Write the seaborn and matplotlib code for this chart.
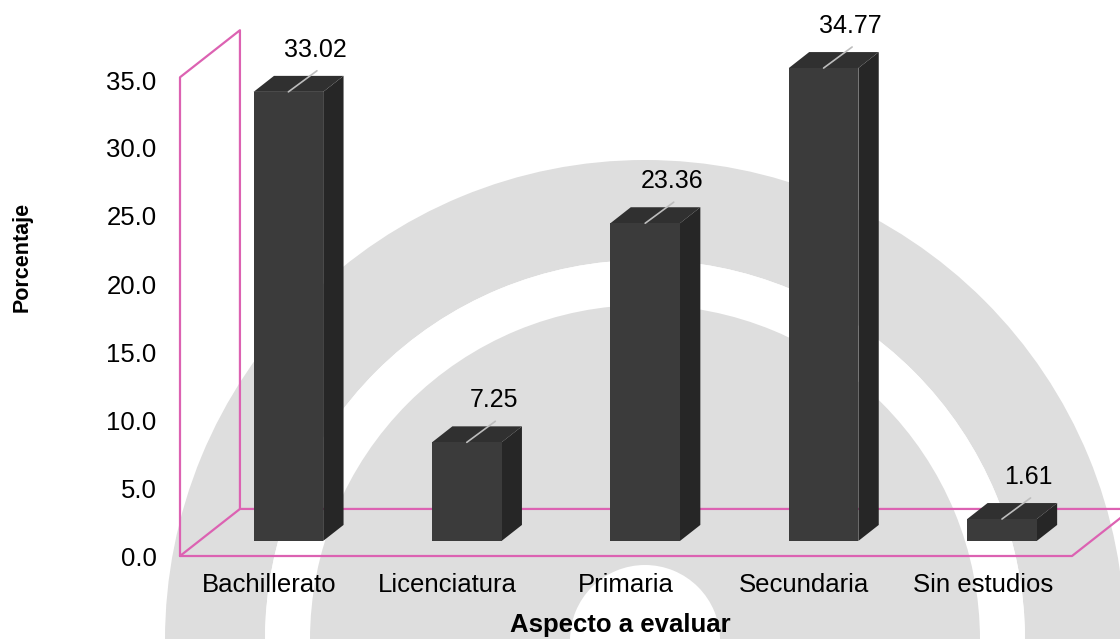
import matplotlib
matplotlib.use("Agg")
import matplotlib.pyplot as plt
import matplotlib.patches as mpatches
import matplotlib.transforms as mtransforms
import seaborn as sns
import pandas as pd

# =========================================================
# DATOS
# =========================================================
CATEGORIAS = ["Bachillerato", "Licenciatura", "Primaria", "Secundaria", "Sin estudios"]
PORCENTAJES = [33.02, 7.25, 23.36, 34.77, 1.61]
Y_TICKS = [0, 5, 10, 15, 20, 25, 30, 35]

# =========================================================
# ESTILO
# =========================================================
sns.set_theme(style="white")
plt.rcParams['font.family'] = ['Liberation Sans', 'DejaVu Sans']
plt.rcParams['text.color'] = 'black'
plt.rcParams['axes.labelcolor'] = 'black'
plt.rcParams['xtick.color'] = 'black'
plt.rcParams['ytick.color'] = 'black'

ROSA = "#DC62B2"
FRENTE = "#3b3b3b"
LADO = "#262626"
TAPA = "#303030"

W, H = 1120, 639
fig = plt.figure(figsize=(W / 100, H / 100), dpi=100)
fig.patch.set_facecolor("white")

# marca de agua (fondo) en pixeles con origen arriba-izquierda
px = mtransforms.Affine2D().scale(1 / W, -1 / H).translate(0, 1) + fig.transFigure
GRIS = "#dedede"
for r, ancho, col in [(480, 100, GRIS), (380, 45, "white"), (335, 260, GRIS)]:
    fig.patches.append(mpatches.Wedge((645, 640), r, 0, 360, width=ancho,
                                      facecolor=col, edgecolor="none",
                                      transform=px, zorder=-5))

ax = fig.add_axes([180 / W, (H - 556) / H, 892 / W, 544 / H])
ax.set_facecolor("none")

df = pd.DataFrame({"Aspecto": CATEGORIAS, "Porcentaje": PORCENTAJES})
sns.barplot(data=df, x="Aspecto", y="Porcentaje", color=FRENTE, saturation=1,
            width=0.39, ax=ax, zorder=3)

ax.set_xlim(-0.5, 4.5)
ax.set_ylim(0, 40)

# profundidad oblicua (en unidades de datos)
DX, DY = 0.336, 3.46
f0, f1 = 0.32, 0.66

# paredes / piso
x_ini, x_fin = -0.5, 4.5
top_pared = 35.2
pared = [(x_ini, 0), (x_ini, top_pared), (x_ini + DX, top_pared + DY),
         (x_ini + DX, DY), (x_ini, 0)]
ax.plot(*zip(*pared), color=ROSA, lw=1.6, zorder=1, clip_on=False)
piso = [(x_ini, 0), (x_fin, 0), (x_fin + DX, DY), (x_ini + DX, DY)]
ax.plot(*zip(*piso), color=ROSA, lw=1.6, zorder=1, clip_on=False)

# barras 3D
for p, v in zip(ax.patches, PORCENTAJES):
    p.set_x(p.get_x() + f0 * DX)
    p.set_y(f0 * DY)
    p.set_edgecolor("none")
    x0 = p.get_x()
    x1 = x0 + p.get_width()
    y0 = p.get_y()
    y1 = y0 + p.get_height()
    dx, dy = (f1 - f0) * DX, (f1 - f0) * DY
    lado = mpatches.Polygon([(x1, y0), (x1, y1), (x1 + dx, y1 + dy), (x1 + dx, y0 + dy)],
                            closed=True, facecolor=LADO, edgecolor="none", zorder=2.9)
    tapa = mpatches.Polygon([(x0, y1), (x1, y1), (x1 + dx, y1 + dy), (x0 + dx, y1 + dy)],
                            closed=True, facecolor=TAPA, edgecolor="none", zorder=2.9)
    ax.add_patch(lado)
    ax.add_patch(tapa)
    cx = x0 + p.get_width() / 2
    ax.plot([cx, cx + 0.16], [y1, y1 + 1.55], color="#bdbdbd", lw=1.2, zorder=4)
    ax.text(cx + 0.15, y1 + 2.2, f"{v:.2f}", ha="center", va="bottom",
            fontsize=18, color="black", zorder=5)

ax.set_yticks(Y_TICKS)
ax.set_yticklabels([f"{t:.1f}" for t in Y_TICKS])
ax.tick_params(axis="y", length=0, pad=17, labelsize=18.5, labelcolor="black")
ax.tick_params(axis="x", length=0, pad=12, labelsize=18.5, labelcolor="black")
for s in ax.spines.values():
    s.set_visible(False)

ax.set_xlabel("Aspecto a evaluar", fontsize=18.5, fontweight="bold", color="black")
ax.set_ylabel("Porcentaje", fontsize=15.5, fontweight="bold", color="black")
ax.xaxis.label.set_va("center")
ax.yaxis.label.set_va("center")
ax.xaxis.set_label_coords(0.494, -0.127)
ax.yaxis.set_label_coords(-0.177, 0.55)

fig.savefig("out.png", dpi=100)
